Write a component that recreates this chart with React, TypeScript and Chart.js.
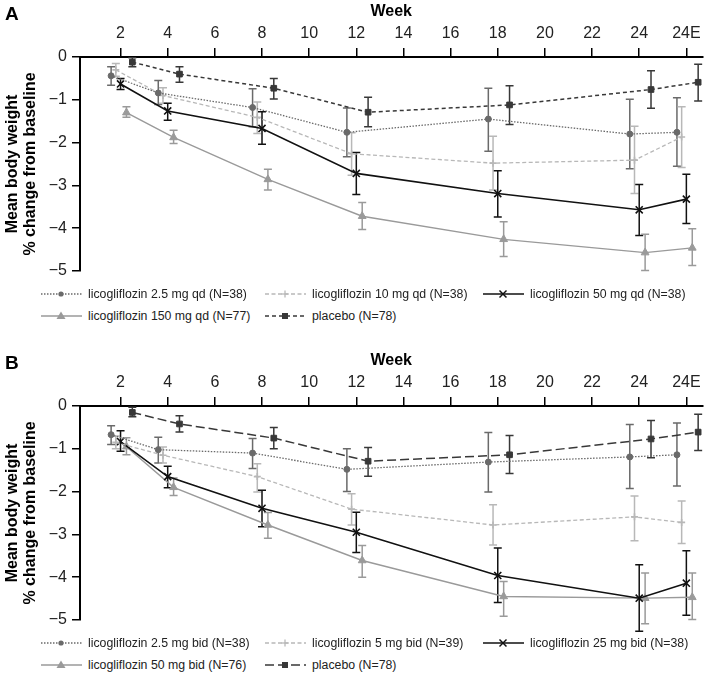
import React, { useEffect, useRef } from 'react';
import { Chart, registerables } from 'chart.js';

Chart.register(...registerables);

// ---------- data ----------
const weeks = [2, 4, 8, 12, 18, 24, 26];
const xTickValues = [2, 4, 6, 8, 10, 12, 14, 16, 18, 20, 22, 24, 26];
const xTickLabels = ['2', '4', '6', '8', '10', '12', '14', '16', '18', '20', '22', '24', '24E'];
const yTickValues = [0, -1, -2, -3, -4, -5];

// Panel A (qd)
const aLabels = [
  'licogliflozin 2.5 mg qd (N=38)',
  'licogliflozin 10 mg qd (N=38)',
  'licogliflozin 50 mg qd (N=38)',
  'licogliflozin 150 mg qd (N=77)',
  'placebo (N=78)',
];
const a25Mean = [-0.44, -0.84, -1.18, -1.76, -1.45, -1.80, -1.76];
const a25Lo = [-0.66, -1.11, -1.63, -2.33, -2.20, -2.61, -2.55];
const a25Hi = [-0.23, -0.55, -0.74, -1.19, -0.73, -0.99, -0.95];
const a10Mean = [-0.30, -0.90, -1.41, -2.26, -2.48, -2.41, -1.87];
const a10Lo = [-0.45, -1.08, -1.79, -2.76, -3.11, -3.19, -2.58];
const a10Hi = [-0.15, -0.72, -1.05, -1.77, -1.85, -1.62, -1.16];
const a50Mean = [-0.63, -1.26, -1.67, -2.72, -3.19, -3.57, -3.32];
const a50Lo = [-0.76, -1.48, -2.04, -3.21, -3.74, -4.17, -3.89];
const a50Hi = [-0.50, -1.08, -1.28, -2.23, -2.66, -2.98, -2.74];
const a150Mean = [-1.30, -1.88, -2.86, -3.72, -4.26, -4.57, -4.46];
const a150Lo = [-1.41, -2.02, -3.11, -4.03, -4.66, -4.99, -4.87];
const a150Hi = [-1.16, -1.71, -2.62, -3.40, -3.85, -4.14, -4.01];
const aPboMean = [-0.12, -0.40, -0.73, -1.29, -1.12, -0.76, -0.59];
const aPboLo = [-0.23, -0.59, -0.98, -1.63, -1.58, -1.20, -1.03];
const aPboHi = [-0.02, -0.23, -0.50, -0.94, -0.67, -0.32, -0.17];

// Panel B (bid)
const bLabels = [
  'licogliflozin 2.5 mg bid (N=38)',
  'licogliflozin 5 mg bid (N=39)',
  'licogliflozin 25 mg bid (N=38)',
  'licogliflozin 50 mg bid (N=76)',
  'placebo (N=78)',
];
const b25Mean = [-0.67, -1.02, -1.10, -1.48, -1.31, -1.19, -1.14];
const b25Lo = [-0.90, -1.33, -1.46, -2.00, -2.01, -1.93, -1.87];
const b25Hi = [-0.46, -0.73, -0.76, -1.00, -0.62, -0.43, -0.40];
const b5Mean = [-0.85, -1.15, -1.65, -2.41, -2.78, -2.59, -2.72];
const b5Lo = [-1.00, -1.33, -2.01, -2.78, -3.25, -3.15, -3.21];
const b5Hi = [-0.70, -0.96, -1.35, -2.05, -2.31, -2.10, -2.22];
const b25mgMean = [-0.83, -1.65, -2.39, -2.95, -3.96, -4.49, -4.14];
const b25mgLo = [-1.06, -1.91, -2.82, -3.42, -4.59, -5.26, -4.89];
const b25mgHi = [-0.58, -1.41, -1.97, -2.48, -3.32, -3.71, -3.38];
const b50Mean = [-0.95, -1.90, -2.78, -3.61, -4.45, -4.49, -4.47];
const b50Lo = [-1.14, -2.09, -3.09, -4.00, -4.91, -5.09, -4.99];
const b50Hi = [-0.74, -1.68, -2.49, -3.26, -4.10, -3.90, -3.90];
const bPboMean = [-0.15, -0.42, -0.75, -1.29, -1.14, -0.77, -0.61];
const bPboLo = [-0.25, -0.61, -1.00, -1.64, -1.58, -1.21, -1.04];
const bPboHi = [-0.03, -0.23, -0.50, -0.97, -0.69, -0.34, -0.19];

// ---------- styles ----------
type Style = {
  color: string;
  dash: number[];
  width: number;
  point: string;
  radius: number;
  fill: boolean;
  dx: number;
};

const FONT = "'Liberation Sans', Arial, Helvetica, sans-serif";

const STY_DOT: Style = { color: '#6a6a6a', dash: [1.5, 1.5], width: 1.3, point: 'circle', radius: 3, fill: true, dx: -0.4 };
const STY_LIGHT: Style = { color: '#b8b8b8', dash: [4, 2.5], width: 1.3, point: 'cross', radius: 3.5, fill: false, dx: -0.2 };
const STY_BLACK: Style = { color: '#111111', dash: [], width: 1.6, point: 'crossRot', radius: 5, fill: false, dx: 0 };
const STY_TRI: Style = { color: '#9a9a9a', dash: [], width: 1.4, point: 'triangle', radius: 4.5, fill: true, dx: 0.25 };
const STY_PBO_A: Style = { color: '#383838', dash: [4, 3], width: 1.5, point: 'rect', radius: 4, fill: true, dx: 0.5 };
const STY_PBO_B: Style = { color: '#383838', dash: [9, 4], width: 1.5, point: 'rect', radius: 4, fill: true, dx: 0.5 };

type Series = { label: string; mean: number[]; lo: number[]; hi: number[]; style: Style };

const seriesA: Series[] = [
  { label: aLabels[0], mean: a25Mean, lo: a25Lo, hi: a25Hi, style: STY_DOT },
  { label: aLabels[1], mean: a10Mean, lo: a10Lo, hi: a10Hi, style: STY_LIGHT },
  { label: aLabels[2], mean: a50Mean, lo: a50Lo, hi: a50Hi, style: STY_BLACK },
  { label: aLabels[3], mean: a150Mean, lo: a150Lo, hi: a150Hi, style: STY_TRI },
  { label: aLabels[4], mean: aPboMean, lo: aPboLo, hi: aPboHi, style: STY_PBO_A },
];
const seriesB: Series[] = [
  { label: bLabels[0], mean: b25Mean, lo: b25Lo, hi: b25Hi, style: STY_DOT },
  { label: bLabels[1], mean: b5Mean, lo: b5Lo, hi: b5Hi, style: STY_LIGHT },
  { label: bLabels[2], mean: b25mgMean, lo: b25mgLo, hi: b25mgHi, style: STY_BLACK },
  { label: bLabels[3], mean: b50Mean, lo: b50Lo, hi: b50Hi, style: STY_TRI },
  { label: bLabels[4], mean: bPboMean, lo: bPboLo, hi: bPboHi, style: STY_PBO_B },
];

// ---------- error bar plugin ----------
const errorBarPlugin = {
  id: 'errorBars',
  beforeDatasetsDraw(chart: any) {
    const ctx = chart.ctx;
    const xs = chart.scales.x;
    const ys = chart.scales.y;
    ctx.save();
    chart.data.datasets.forEach((ds: any) => {
      ctx.strokeStyle = ds.borderColor;
      ctx.lineWidth = 1.5;
      ctx.setLineDash([]);
      ds.data.forEach((pt: any, i: number) => {
        const px = xs.getPixelForValue(pt.x);
        const yLo = ys.getPixelForValue(ds.errLo[i]);
        const yHi = ys.getPixelForValue(ds.errHi[i]);
        const cap = 4;
        ctx.beginPath();
        ctx.moveTo(px, yHi);
        ctx.lineTo(px, yLo);
        ctx.moveTo(px - cap, yHi);
        ctx.lineTo(px + cap, yHi);
        ctx.moveTo(px - cap, yLo);
        ctx.lineTo(px + cap, yLo);
        ctx.stroke();
      });
    });
    ctx.restore();
  },
};

// ---------- legend sample ----------
function Marker({ style }: { style: Style }) {
  const cx = 20;
  const cy = 6;
  const c = style.color;
  switch (style.point) {
    case 'circle':
      return <circle cx={cx} cy={cy} r={2.6} fill={c} />;
    case 'cross':
      return (
        <g stroke={c} strokeWidth={1.3}>
          <line x1={cx} y1={cy - 3.5} x2={cx} y2={cy + 3.5} />
          <line x1={cx - 3.5} y1={cy} x2={cx + 3.5} y2={cy} />
        </g>
      );
    case 'crossRot':
      return (
        <g stroke={c} strokeWidth={1.5}>
          <line x1={cx - 3.5} y1={cy - 3.5} x2={cx + 3.5} y2={cy + 3.5} />
          <line x1={cx - 3.5} y1={cy + 3.5} x2={cx + 3.5} y2={cy - 3.5} />
        </g>
      );
    case 'triangle':
      return <polygon points={`${cx},${cy - 4.5} ${cx + 4.5},${cy + 3} ${cx - 4.5},${cy + 3}`} fill={c} />;
    case 'rect':
      return <rect x={cx - 3} y={cy - 3} width={6} height={6} fill={c} />;
    default:
      return null;
  }
}

function LegendItem({ s, left, top }: { s: Series; left: number; top: number }) {
  return (
    <div style={{ position: 'absolute', left, top: top - 7, height: 14, display: 'flex', alignItems: 'center', whiteSpace: 'nowrap' }}>
      <svg width={41} height={12} style={{ display: 'block' }}>
        <line x1={0} y1={6} x2={41} y2={6} stroke={s.style.color} strokeWidth={s.style.width} strokeDasharray={s.style.dash.length ? s.style.dash.join(',') : undefined} />
        <Marker style={s.style} />
      </svg>
      <span style={{ marginLeft: 6, fontFamily: FONT, fontSize: 12.3, color: '#222', lineHeight: '14px' }}>{s.label}</span>
    </div>
  );
}

// ---------- panel ----------
function Panel({ letter, series, top, height }: { letter: string; series: Series[]; top: number; height: number }) {
  const ref = useRef<HTMLCanvasElement | null>(null);

  useEffect(() => {
    if (!ref.current) return;
    const datasets = series.map((s) => ({
      label: s.label,
      data: weeks.map((w, i) => ({ x: w + s.style.dx, y: s.mean[i] })),
      errLo: s.lo,
      errHi: s.hi,
      borderColor: s.style.color,
      backgroundColor: s.style.color,
      borderWidth: s.style.width,
      borderDash: s.style.dash,
      pointStyle: s.style.point,
      pointRadius: s.style.radius,
      pointBorderWidth: s.style.point === 'crossRot' || s.style.point === 'cross' ? 1.6 : 1,
      pointBackgroundColor: s.style.color,
      pointBorderColor: s.style.color,
      fill: false,
      tension: 0,
      showLine: true,
    }));

    const chart = new Chart(ref.current, {
      type: 'scatter',
      data: { datasets } as any,
      plugins: [errorBarPlugin],
      options: {
        responsive: false,
        animation: false,
        devicePixelRatio: 1,
        layout: { padding: { left: 0, right: 4, top: 0, bottom: 19 } },
        plugins: { legend: { display: false }, tooltip: { enabled: false } },
        scales: {
          x: {
            type: 'linear',
            position: 'top',
            min: 0.28,
            max: 26.68,
            afterBuildTicks: (sc: any) => {
              sc.ticks = xTickValues.map((v) => ({ value: v }));
            },
            afterFit: (sc: any) => {
              sc.height = 57;
            },
            ticks: {
              autoSkip: false,
              maxRotation: 0,
              padding: 5,
              color: '#222',
              font: { family: FONT, size: 16 },
              callback: (_v: any, i: number) => xTickLabels[i],
            },
            grid: { drawOnChartArea: false, drawTicks: true, tickLength: 9, color: '#000', lineWidth: 1.5 },
            border: { display: true, color: '#000', width: 2 },
            title: {
              display: true,
              text: 'Week',
              color: '#000',
              font: { family: FONT, size: 16, weight: 'bold' },
              padding: { top: 2, bottom: 0 },
            },
          },
          y: {
            type: 'linear',
            min: -5,
            max: 0,
            afterBuildTicks: (sc: any) => {
              sc.ticks = yTickValues.map((v) => ({ value: v }));
            },
            afterFit: (sc: any) => {
              sc.width = 80;
            },
            ticks: {
              padding: 5,
              color: '#222',
              font: { family: FONT, size: 16 },
              callback: (v: any) => (v === 0 ? '0' : '\u2212' + Math.abs(v)),
            },
            grid: { drawOnChartArea: false, drawTicks: true, tickLength: 8, color: '#000', lineWidth: 1.5 },
            border: { display: true, color: '#000', width: 2 },
            title: {
              display: true,
              text: ['Mean body weight', '% change from baseline'],
              color: '#000',
              font: { family: FONT, size: 16, weight: 'bold', lineHeight: 1.15 },
              padding: { top: 3, bottom: 0 },
            },
          },
        },
      } as any,
    });
    return () => chart.destroy();
  }, [series]);

  const cols = [41, 265, 483];
  const rows = [294, 316];
  return (
    <div style={{ position: 'absolute', left: 0, top, width: 709, height, overflow: 'hidden' }}>
      <canvas ref={ref} width={709} height={290} style={{ position: 'absolute', left: 0, top: 0, width: 709, height: 290 }} />
      <div style={{ position: 'absolute', left: 5, top: 3, fontFamily: FONT, fontWeight: 'bold', fontSize: 19, color: '#000' }}>{letter}</div>
      <LegendItem s={series[0]} left={cols[0]} top={rows[0]} />
      <LegendItem s={series[1]} left={cols[1]} top={rows[0]} />
      <LegendItem s={series[2]} left={cols[2]} top={rows[0]} />
      <LegendItem s={series[3]} left={cols[0]} top={rows[1]} />
      <LegendItem s={series[4]} left={cols[1]} top={rows[1]} />
    </div>
  );
}

export default function App() {
  return (
    <div style={{ position: 'absolute', left: 0, top: 0, width: 709, height: 675, background: '#fff' }}>
      <Panel letter="A" series={seriesA} top={0} height={349} />
      <Panel letter="B" series={seriesB} top={349} height={326} />
    </div>
  );
}
